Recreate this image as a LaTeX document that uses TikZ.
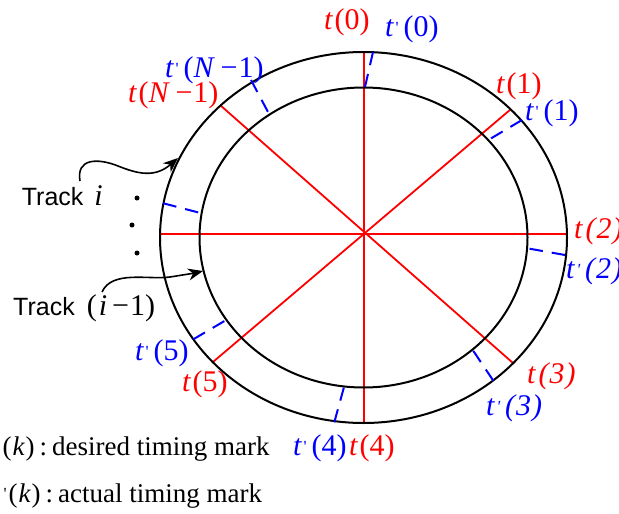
\documentclass[tikz,border=0pt]{standalone}
\usepackage{fontspec}
\setmainfont{Liberation Serif}
\newfontfamily\sansf{Liberation Sans}
\usetikzlibrary{arrows.meta}
\newcommand\lab{\fontsize{30}{32}\selectfont}
\newcommand\prm{\raisebox{3pt}{\fontsize{17}{17}\selectfont\textquotesingle}}
\newcommand\tmk[1]{{\itshape t}\kern2pt(#1)}
\newcommand\tpr[1]{{\itshape t}\kern2pt\prm\kern5pt(#1)}
\newcommand\tmki[1]{{\itshape t\kern3pt(\kern1pt#1\kern1pt)}}
\newcommand\tpri[1]{{\itshape t\kern2pt\prm\kern5pt(\kern1pt#1\kern1pt)}}
\newcommand\Nm{{\itshape N}\kern7pt\textminus\kern1pt1}
\tikzset{
  trackline/.style={line width=2pt, black},
  markline/.style={line width=1.8pt, red},
  actual/.style={line width=2pt, blue, dash pattern=on 13.5pt off 9pt},
  redlab/.style={text=red, anchor=base west, inner sep=0pt, font=\lab},
  bluelab/.style={text=blue, anchor=base west, inner sep=0pt, font=\lab},
  tracklab/.style={anchor=base west, inner sep=0pt, font=\sansf\fontsize{25}{27}\selectfont},
  legend/.style={anchor=base west, inner sep=0pt, font=\fontsize{27}{29}\selectfont},
  pointer/.style={line width=1.6pt, -{Stealth[length=15pt,width=12pt]}},
  dotmark/.style={circle, fill=black, inner sep=0pt, minimum size=5pt}
}
\begin{document}
\begin{tikzpicture}[x=1pt,y=-1pt]
\useasboundingbox (0,0) rectangle (619,514);
\coordinate (C) at (363.5,237.5);
% desired timing marks (red)
\draw[markline] (364,52.5) -- (364,423.5);
\draw[markline] (160,234) -- (567,234);
\draw[markline] (510.7,109.3) -- (213.3,361.7);
\draw[markline] (220,105) -- (513.3,363.3);
% tracks
\draw[trackline] (C) ellipse [x radius=203.5, y radius=185.5];
\draw[trackline] (C) ellipse [x radius=164, y radius=150];
% actual timing marks (blue dashed)
\draw[actual] (373,52) -- (365,87);
\draw[actual] (251,80) -- (268,112);
\draw[actual] (522,120) -- (490,139);
\draw[actual] (565,255) -- (527.3,248.3);
\draw[actual] (493.3,380.7) -- (472.7,350);
\draw[actual] (334.3,422.3) -- (344.3,386);
\draw[actual] (193.3,339.3) -- (225,320.7);
\draw[actual] (163.3,203.3) -- (199.3,212.7);
% labels
\node[redlab] (t0) at (324,29) {\tmk{0}};
\node[bluelab] (tp0) at (385,36) {\tpr{0}};
\node[bluelab] (tpN) at (165,77) {\tpr{\Nm}};
\node[redlab] (tN) at (128,102) {\tmk{\Nm}};
\node[redlab] (t1) at (496,93) {\tmk{1}};
\node[bluelab] (tp1) at (525,120) {\tpr{1}};
\node[redlab] (t2) at (574,238) {\tmki{2}};
\node[bluelab] (tp2) at (566,278) {\tpri{2}};
\node[redlab] (t3) at (527,383) {\tmki{3}};
\node[bluelab] (tp3) at (486,415) {\tpri{3}};
\node[bluelab] (tp4) at (293,455) {\tpr{4}};
\node[redlab] (t4) at (349,455) {\tmk{4}};
\node[bluelab] (tp5) at (135,360) {\tpr{5}};
\node[redlab] (t5) at (182,391) {\tmk{5}};
% track labels
\node[tracklab] (tracki) at (21.7,205) {Track\kern11pt{\lab\rmfamily\itshape i}};
\node[tracklab] (trackim) at (13,315) {Track\kern12pt{\lab\rmfamily(\kern2pt{\itshape i}\kern5pt\textminus\kern1pt1)}};
\coordinate (ai0) at (80,181);
\coordinate (ai1) at (178,158);
\coordinate (aj0) at (102,292);
\coordinate (aj1) at (203,271);
\draw[pointer] (ai0) .. controls (76,158) and (98,158) .. (118,166) .. controls (138,174) and (155,178) .. (ai1);
\draw[pointer] (aj0) .. controls (112,270) and (148,280) .. (170,277) .. controls (182,276) .. (aj1);
% dots
\node[dotmark] (d1) at (137,198) {};
\node[dotmark] (d2) at (132,225) {};
\node[dotmark] (d3) at (137,253) {};
% legend
\node[legend] (leg1) at (2.5,455) {\llap{\itshape t\kern3pt}(\kern1pt{\itshape k}\kern1pt)\kern5pt:\kern5pt desired timing mark};
\node[legend] (leg2) at (8.5,502.7) {\llap{\itshape t\kern6pt\upshape\prm\kern2pt}(\kern1pt{\itshape k}\kern1pt)\kern5pt:\kern5pt actual timing mark};
\end{tikzpicture}
\end{document}
